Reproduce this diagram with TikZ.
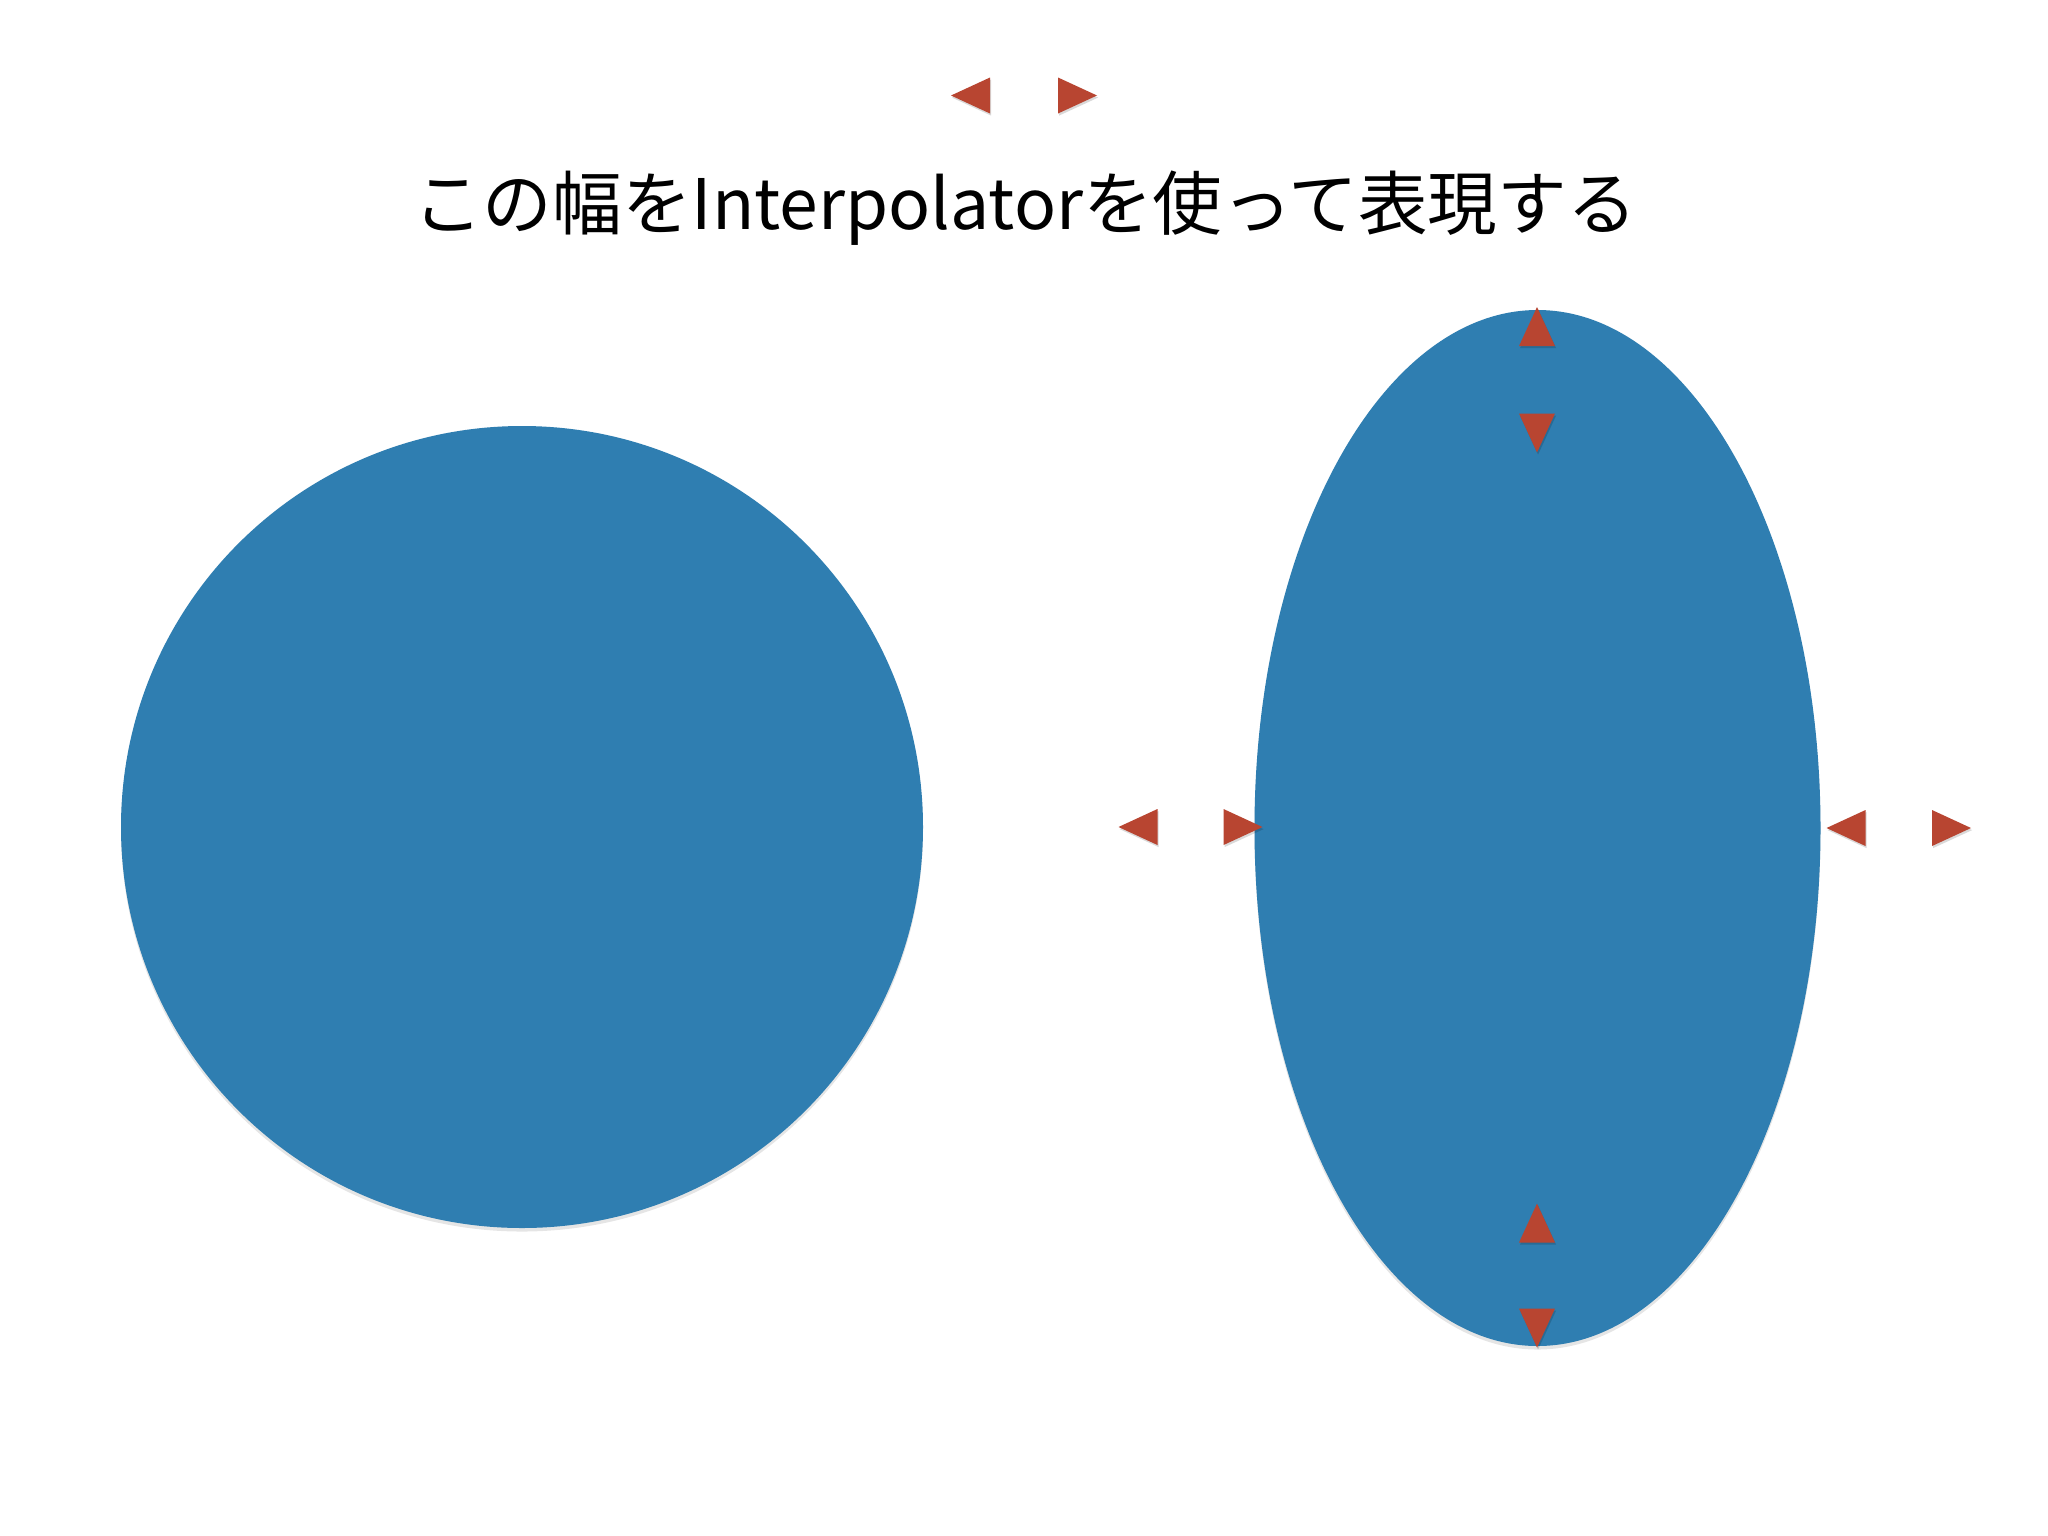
\documentclass[tikz,border=0pt]{standalone}
\usepackage{fontspec}
\newfontfamily\jpfont{Noto Sans CJK JP}
\usetikzlibrary{shadows}
\definecolor{paperblue}{RGB}{47,126,177}
\definecolor{markred}{RGB}{184,69,49}
\tikzset{
  px/.style={x=0.01cm,y=-0.01cm},
  bluepaper/.style={fill=paperblue, draw=none,
    drop shadow={shadow xshift=0pt, shadow yshift=-1pt, opacity=0.1, fill=black}},
  redmark/.style={fill=markred, draw=none,
    drop shadow={shadow xshift=0.3pt, shadow yshift=-0.6pt, opacity=0.15, fill=black}},
  triL/.pic={\path[redmark] (-19.5,0) -- (19.5,-18) -- (19.5,18) -- cycle;},
  triR/.pic={\path[redmark] (19.5,0) -- (-19.5,-18) -- (-19.5,18) -- cycle;},
  triU/.pic={\path[redmark] (0,-19.5) -- (-18,19.5) -- (18,19.5) -- cycle;},
  triD/.pic={\path[redmark] (0,19.5) -- (-18,-19.5) -- (18,-19.5) -- cycle;},
  titlefont/.style={font=\jpfont\fontsize{19.8pt}{24pt}\selectfont, inner sep=0pt}
}
\begin{document}
\begin{tikzpicture}[px]
  \fill[white] (0,0) rectangle (2048,1536);
  \useasboundingbox (0,0) rectangle (2048,1536);
  % shapes
  \path[bluepaper] (522,827) circle [radius=401];
  \path[bluepaper] (1537.5,828) ellipse [x radius=283, y radius=518];
  % title
  \node[titlefont, anchor=base] (title) at (1025,229) {この幅をInterpolatorを使って表現する};
  % markers
  \pic at (970.5,95.5) {triL};
  \pic at (1077.5,95.5) {triR};
  \pic at (1138,827) {triL};
  \pic at (1243,827) {triR};
  \pic at (1846,828) {triL};
  \pic at (1951.5,828) {triR};
  \pic at (1537,326.5) {triU};
  \pic at (1537,433) {triD};
  \pic at (1537,1223) {triU};
  \pic at (1537,1328) {triD};
\end{tikzpicture}
\end{document}
